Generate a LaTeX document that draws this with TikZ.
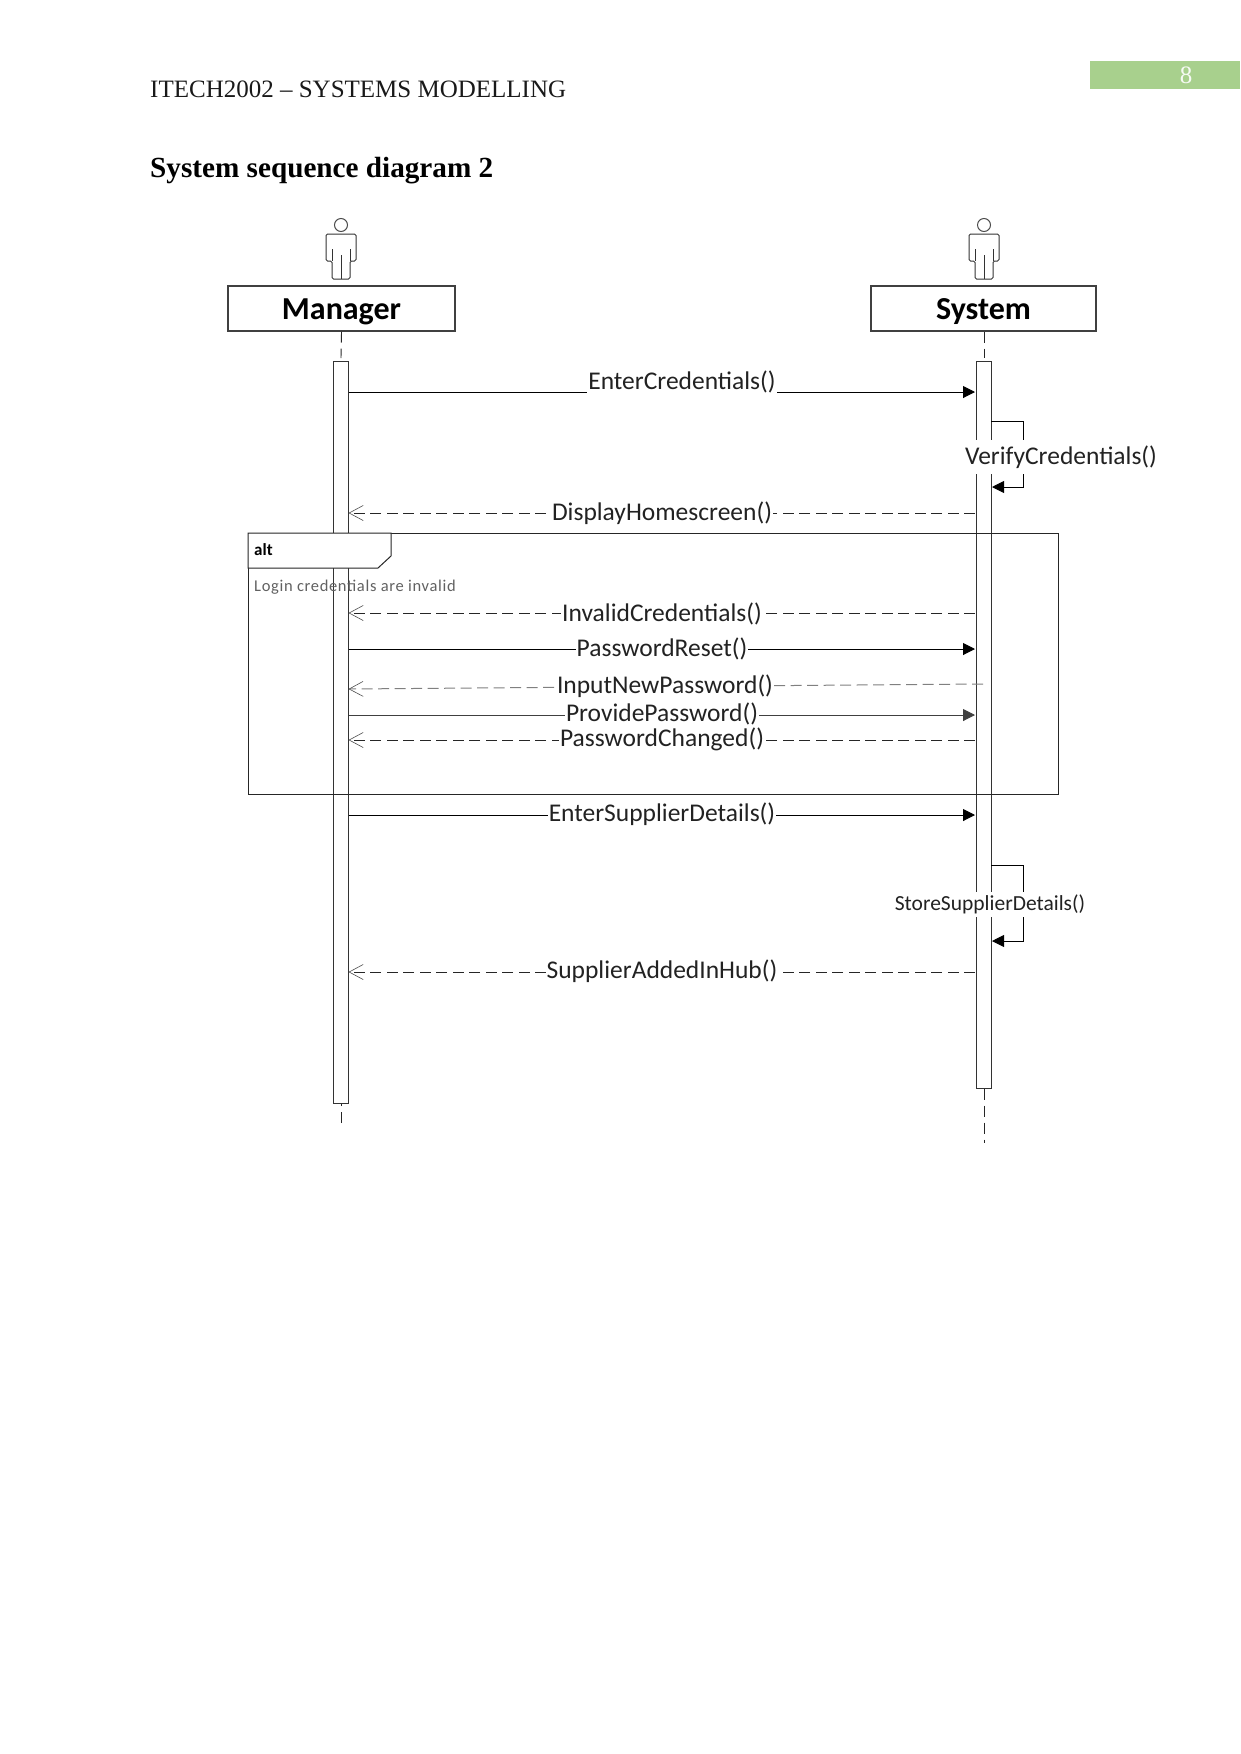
\documentclass[tikz,border=0pt]{standalone}
\usepackage{fontspec}
\usetikzlibrary{arrows.meta}
\setmainfont{Liberation Serif}
\newfontfamily\dfont{Carlito}
\definecolor{pagegreen}{HTML}{A8D08D}
\definecolor{ink}{HTML}{222222}
\tikzset{
  x=1pt,y=-1pt,
  headtext/.style={anchor=base west,inner sep=0pt,font=\fontsize{25}{25}\selectfont,text=black!90},
  titletext/.style={anchor=base west,inner sep=0pt,font=\fontsize{29.2}{30}\selectfont\bfseries},
  partbox/.style={draw=black!75,line width=1.2pt,fill=white,inner sep=0pt,text height=23pt,text depth=2pt,
    font=\dfont\fontsize{32}{32}\selectfont\bfseries},
  activation/.style={draw=black!80,line width=1pt,fill=white,inner sep=0pt,minimum width=15pt},
  lifeline/.style={draw=black!85,line width=0.9pt,dash pattern=on 11pt off 6pt},
  syncmsg/.style={draw=black,line width=1pt,-{Triangle[length=12pt,width=12pt]}},
  replymsg/.style={draw=black!85,line width=1pt,dash pattern=on 11pt off 5.5pt,
    -{Straight Barb[length=14pt,width=15pt,line width=0.6pt,black!70]}},
  msglabel/.style={fill=white,inner sep=1pt,text=ink,font=\dfont\fontsize{25.5}{26}\selectfont},
  framebox/.style={draw=black!85,line width=1pt},
  actor/.pic={
    \draw[black!70,line width=1pt] (0,-54) circle (6.5);
    \draw[black!80,line width=1pt,rounded corners=1.5pt]
      (-9,0) -- (-9,-18) -- (-15,-18) -- (-15,-45) -- (15,-45) -- (15,-18) -- (9,-18) -- (9,0) -- cycle;
    \draw[black!80,line width=1pt] (-9,-18) -- (-9,-30) (9,-18) -- (9,-30) (0,-24) -- (0,0);
  }
}
\begin{document}
\begin{tikzpicture}
\useasboundingbox (0,0) rectangle (1241,1754);

% Page furniture
\node[headtext] (hdr) at (150,97) {ITECH2002 – SYSTEMS MODELLING};
\node[titletext] (ttl) at (150,177) {System sequence diagram 2};
\node[fill=pagegreen,inner sep=0pt,minimum width=150pt,minimum height=28pt] (pgbar) at (1165,75) {};
\node[inner sep=0pt,text=white!90!pagegreen,font=\fontsize{25}{25}\selectfont] (pgnum) at (1186,75) {8};

% Actors and their header boxes
\pic at (341,279) {actor};
\pic at (984,279) {actor};
\node[partbox,minimum width=227pt,minimum height=45pt] (mgr) at (341.5,308.5) {Manager};
\node[partbox,minimum width=225pt,minimum height=45pt] (sys) at (983.5,308.5) {System};

% Activation bars
\node[activation,minimum height=742pt] (mact) at (341,732) {};
\node[activation,minimum height=727pt] (sact) at (983.5,724.5) {};

% Lifelines
\coordinate (mend) at (341,1123);
\coordinate (send) at (984,1143);
\coordinate (mtop) at (341,358);
\coordinate (stop) at (984,358);
\draw[lifeline] (mgr.south) -- (mtop);
\draw[lifeline] (sys.south -| stop) -- (stop);
\draw[lifeline] (mend) -- (mact.south);
\draw[lifeline] (sact.south -| send) -- (send);

% Combined fragment
\coordinate (fa) at (248,533);
\coordinate (fb) at (1058,794);
\draw[framebox] (fa) rectangle (fb);
\draw[framebox,fill=white] (fa) -- (391,533) -- (391,556) -- (378,568) -- (248,568) -- cycle;
\node[anchor=base west,inner sep=0pt,font=\dfont\fontsize{17}{17}\selectfont\bfseries] (alttag) at (254,555) {alt};
\node[anchor=base west,inner sep=0pt,text=black!62,font=\dfont\fontsize{16.5}{17}\selectfont\addfontfeature{LetterSpace=4}] (guard) at (254,591) {Login credentials are invalid};

% Endpoints of the messages on the activation bars
\foreach \nm/\yy in {a/392,c/513,d/613,e/649,g/715,h/740,i/815,j/972}{
  \coordinate (m\nm) at (348.5,\yy);
  \coordinate (s\nm) at (975,\yy);
}
\coordinate (mf) at (348.5,689);
\coordinate (sf) at (983,684);

% Messages
\draw[syncmsg] (ma) -- (sa);
\node[msglabel] (lcred) at (682,381.5) {EnterCredentials()};
\draw[replymsg] (sc) -- (mc);
\node[msglabel] (lhome) at (662,513.5) {DisplayHomescreen()};
\draw[replymsg] (sd) -- (md);
\node[msglabel] (linv) at (662,613.5) {InvalidCredentials()};
\draw[syncmsg] (me) -- (se);
\node[msglabel] (lreset) at (662,648.5) {PasswordReset()};
\draw[replymsg,draw=black!50] (sf) -- (mf);
\node[msglabel] (lnew) at (665,686) {InputNewPassword()};
\draw[syncmsg,draw=black!75] (mg) -- (sg);
\node[msglabel] (lprov) at (662,714) {ProvidePassword()};
\draw[replymsg] (sh) -- (mh);
\node[msglabel] (lchg) at (662,739) {PasswordChanged()};
\draw[syncmsg] (mi) -- (si);
\node[msglabel] (lsup) at (662,814.5) {EnterSupplierDetails()};
\draw[replymsg] (sj) -- (mj);
\node[msglabel] (lhub) at (662,971.5) {SupplierAddedInHub()};

% Self calls on the system
\coordinate (va) at (991,421);
\coordinate (vb) at (1023.5,487);
\coordinate (vc) at (992,487);
\draw[syncmsg,line width=0.9pt] (va) -| (vb) -- (vc);
\node[msglabel,minimum height=34pt] (lver) at (1061,457) {VerifyCredentials()};
\coordinate (wa) at (991,865);
\coordinate (wb) at (1023.5,941);
\coordinate (wc) at (992,941);
\draw[syncmsg,line width=0.9pt] (wa) -| (wb) -- (wc);
\node[msglabel,font=\dfont\fontsize{21.5}{22}\selectfont,minimum height=25pt] (lstore) at (990,904) {StoreSupplierDetails()};
\end{tikzpicture}
\end{document}
